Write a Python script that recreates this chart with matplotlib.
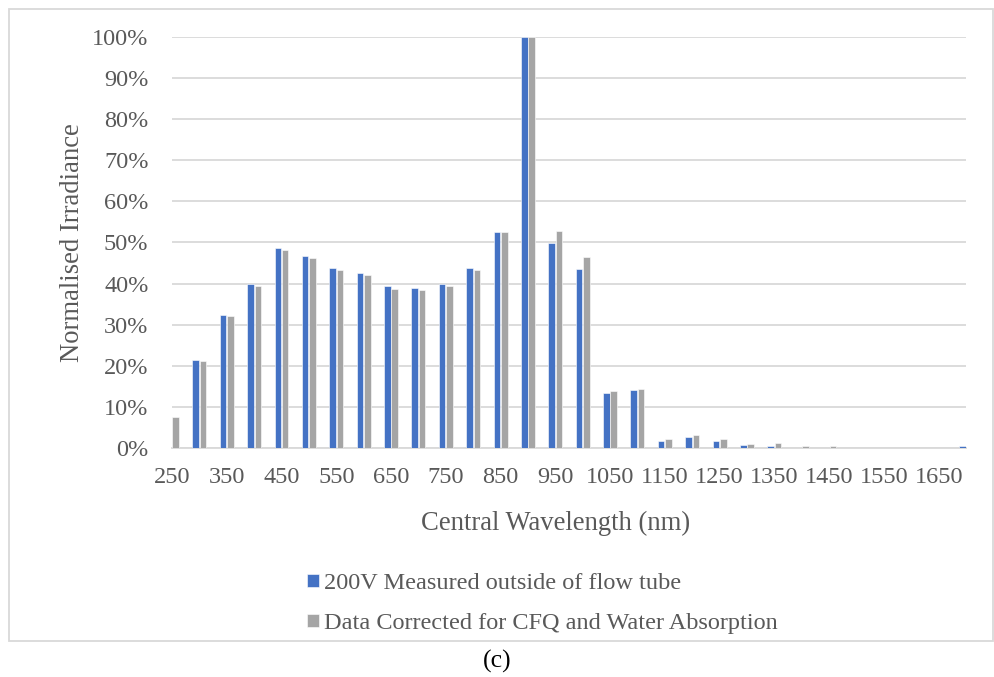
import matplotlib
matplotlib.use("Agg")
import matplotlib.pyplot as plt
from matplotlib.patches import Rectangle
import numpy as np

wavelengths = list(range(250, 1701, 50))
measured = [0.0, 21.3, 32.4, 39.8, 48.7, 46.8, 43.7, 42.6, 39.3, 39.0,
            40.0, 43.8, 52.6, 100.0, 49.9, 43.5, 13.5, 14.2, 1.8, 2.6,
            1.7, 0.65, 0.5, 0.0, 0.0, 0.0, 0.0, 0.0, 0.0, 0.4]
corrected = [7.6, 21.1, 32.0, 39.3, 48.2, 46.3, 43.2, 42.0, 38.8, 38.4,
             39.4, 43.2, 52.5, 100.0, 52.8, 46.4, 13.9, 14.4, 2.1, 3.2,
             2.2, 0.9, 1.2, 0.5, 0.55, 0.0, 0.0, 0.0, 0.0, 0.0]
tick_labels = [str(w) for w in range(250, 1651, 100)]
series_names = ["200V Measured outside of flow tube",
                "Data Corrected for CFQ and Water Absorption"]

W, H = 995, 677
fig = plt.figure(figsize=(W / 100, H / 100), dpi=100)
plt.rcParams['font.family'] = ['Liberation Serif', 'DejaVu Serif']
txt = '#595959'
fs = 17.5
fs_title = 19.2

# axes placement in pixels
left, right, top, bottom = 172, 966, 37, 448
ax = fig.add_axes([left / W, 1 - bottom / H, (right - left) / W, (bottom - top) / H])

x = np.arange(len(wavelengths))
bw = 0.24
off = 0.135
ax.bar(x - off, measured, width=bw, color='#4472C4', edgecolor='white', linewidth=0.4,
       label=series_names[0], zorder=3)
ax.bar(x + off, corrected, width=bw, color='#A5A5A5', edgecolor='white', linewidth=0.4,
       label=series_names[1], zorder=3)

ax.set_xlim(0, len(wavelengths) - 1)
ax.set_ylim(0, 100)
ax.set_yticks(np.arange(0, 101, 10))
ax.set_yticklabels([f"{v}%" for v in range(0, 101, 10)])
ax.set_xticks(x[::2])
ax.set_xticklabels(tick_labels)
ax.tick_params(axis='both', length=0, labelsize=fs, labelcolor=txt)
ax.tick_params(axis='y', pad=17)
ax.tick_params(axis='x', pad=14)
ax.grid(axis='y', color='#D9D9D9', linewidth=1.3, zorder=0)
for s in ['top', 'right', 'left']:
    ax.spines[s].set_visible(False)
ax.spines['bottom'].set_color('#D9D9D9')
ax.spines['bottom'].set_linewidth(1.3)
ax.set_axisbelow(True)

fig.text(73 / W, 1 - 243 / H, "Normalised Irradiance", rotation=90, ha='center', va='center',
         fontsize=fs_title, color=txt)
fig.text(556 / W, 1 - 523 / H, "Central Wavelength (nm)", ha='center', va='center',
         fontsize=fs_title, color=txt)

leg = fig.legend(loc='upper left', bbox_to_anchor=(307 / W, 1 - 573 / H), frameon=False,
                 fontsize=fs, labelcolor=txt, handlelength=0.5, handleheight=0.42,
                 handletextpad=0.2, labelspacing=0.8, borderpad=0, borderaxespad=0)

# chart border
fig.patches.append(Rectangle((9 / W, 1 - 641 / H), (993 - 9) / W, (641 - 9) / H,
                             transform=fig.transFigure, fill=False, edgecolor='#D9D9D9',
                             linewidth=1.3))
fig.text(497 / W, 1 - 661 / H, "(c)", ha='center', va='center', fontsize=18.5, color='black')

fig.savefig("out.png", dpi=100)
